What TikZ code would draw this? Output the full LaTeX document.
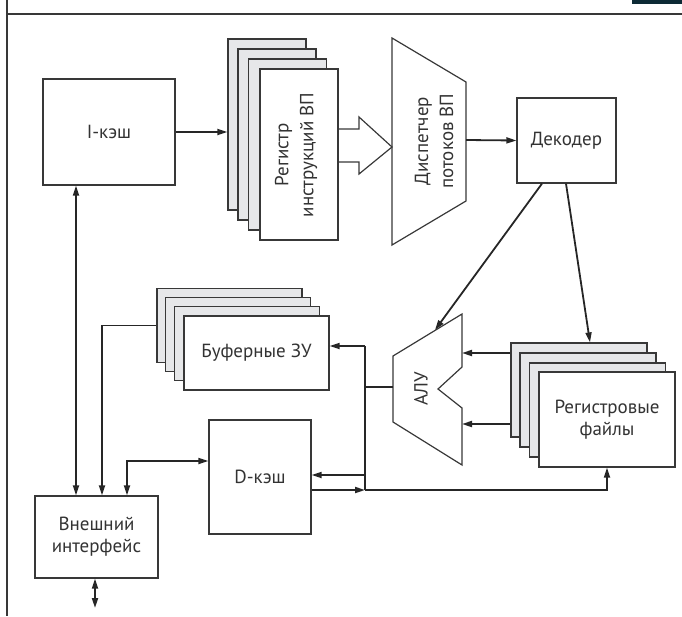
\documentclass[tikz,border=0pt]{standalone}
\usepackage{fontspec}
\setmainfont{PT Sans}
\usetikzlibrary{arrows.meta}
\definecolor{linec}{HTML}{383838}
\definecolor{stackfill}{HTML}{E6E7E9}
\definecolor{txt}{HTML}{333333}
\definecolor{corner}{HTML}{0D2A35}
\begin{document}
\begin{tikzpicture}[x=1pt,y=-1pt,
  box/.style={draw=linec, line width=1.2pt, fill=white, inner sep=0pt, text=txt, font=\fontsize{19}{22}\selectfont, align=center},
  backbox/.style={box, fill=stackfill},
  arr/.style={draw=black!85, line width=1.8pt, -{Triangle[length=10pt,width=6pt]}},
  darr/.style={draw=black!85, line width=1.8pt, {Triangle[length=10pt,width=6pt]}-{Triangle[length=10pt,width=6pt]}},
  wire/.style={draw=black!85, line width=1.8pt},
  shapeline/.style={draw=linec, line width=1.2pt, line join=miter},
  lbl/.style={text=txt, font=\fontsize{19}{25}\selectfont, align=center, inner sep=0pt}]
\useasboundingbox (0,0) rectangle (682,616);
% frame
\fill[corner] (632,0) rectangle (682,4);
\draw[linec, line width=1.3pt] (7,0) -- (7,616);
\draw[linec, line width=1.3pt] (7,14) -- (682,14);

% I-cache
\node[box, minimum width=132pt, minimum height=106pt] (ic) at (109,132) {I-кэш};

% register stack
\node[backbox, minimum width=78pt, minimum height=171pt] (rs1) at (267,124.5) {};
\node[backbox, minimum width=78pt, minimum height=171pt] (rs2) at (277,134.5) {};
\node[backbox, minimum width=78pt, minimum height=171pt] (rs3) at (287.5,144.5) {};
\node[box, minimum width=78pt, minimum height=171pt] (rs) at (299,154.5) {};
\node[lbl, rotate=90] (rslbl) at (296,155) {Регистр\\инструкций ВП};

% hollow arrow
\draw[shapeline] (rs.east |- 0,129) -- (359,129) -- (359,117) -- (392,147) -- (359,174) -- (359,162) -- (rs.east |- 0,162);

% dispatcher
\draw[shapeline] (392,38) -- (466,82) -- (466,201) -- (392,245) -- cycle;
\node[lbl, rotate=90] (disp) at (434,141) {Диспетчер\\потоков ВП};
\coordinate (dispout) at (466,140);

% decoder
\node[box, minimum width=99pt, minimum height=85pt] (dec) at (566.5,140.5) {Декодер};
\draw[arr] (dispout) -- (dec.west);

% ALU
\draw[shapeline] (393,356) -- (462,314) -- (462,367) -- (438,389) -- (462,408) -- (462,465) -- (393,422) -- cycle;
\node[lbl, rotate=90] (alu) at (421,389) {АЛУ};
\coordinate (alutop) at (435,330);
\coordinate (aluin1) at (462,353);
\coordinate (aluin2) at (462,424);
\coordinate (aluout) at (393,387);

% register files
\node[backbox, minimum width=136pt, minimum height=94pt] (rf1) at (579,390) {};
\node[backbox, minimum width=136pt, minimum height=94pt] (rf2) at (588,400) {};
\node[backbox, minimum width=136pt, minimum height=94pt] (rf3) at (597.5,410) {};
\node[box, minimum width=136pt, minimum height=95pt] (rf) at (607,419.5) {Регистровые\\файлы};

% buffers
\node[backbox, minimum width=145pt, minimum height=74pt] (bf1) at (229.5,325.5) {};
\node[backbox, minimum width=145pt, minimum height=74pt] (bf2) at (238,334.5) {};
\node[backbox, minimum width=145pt, minimum height=74pt] (bf3) at (247,343.5) {};
\node[box, minimum width=145pt, minimum height=74pt] (bf) at (256.5,353) {Буферные ЗУ};

% D-cache
\node[box, minimum width=102pt, minimum height=114pt] (dc) at (260,477) {D-кэш};

% external interface
\node[box, minimum width=123pt, minimum height=82pt] (ext) at (96.5,537) {Внешний\\интерфейс};
\coordinate (extbot) at (95,608);

% bus junctions
\coordinate (busTop) at (365,346);
\coordinate (busBot) at (365,490);

% connectors
\draw[arr] (ic.east) -- (ic.east -| rs1.west);
\draw[arr] ([xshift=-24.5pt]dec.south) -- (alutop);
\draw[arr] ([xshift=-0.5pt]dec.south) -- ([xshift=11pt]rf1.north);
\draw[arr] (rf1.west |- aluin1) -- (aluin1);
\draw[arr] (rf1.west |- aluin2) -- (aluin2);
\draw[wire] (aluout) -- (aluout -| busTop);
\draw[wire] (busTop) -- (busBot);
\draw[arr] (busTop) -- (busTop -| bf.east);
\draw[arr] (365,475) -- (dc.east |- 0,475);
\draw[arr] (dc.east |- busBot) -- (busBot);
\draw[arr] (busBot) -- (busBot -| rf.south) -- (rf.south);
\draw[arr] (bf1.west) -- (102,325.5) -- (ext.north -| 102,0);
\draw[darr] (ic.south -| 76,0) -- (ext.north -| 76,0);
\draw[darr] (ext.north -| 127,0) -- (127,461) -- (dc.west |- 0,461);
\draw[darr] (ext.south -| extbot) -- (extbot);
\end{tikzpicture}
\end{document}
